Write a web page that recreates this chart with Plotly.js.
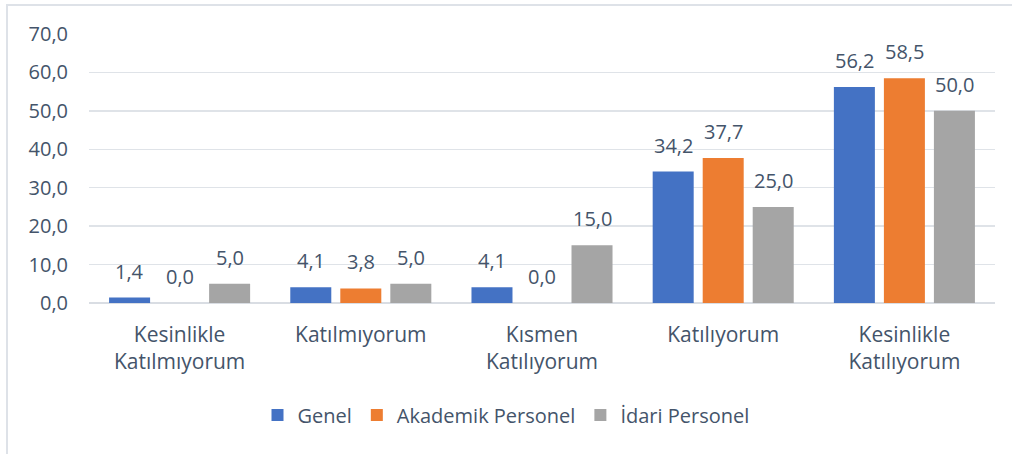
<!DOCTYPE html>
<html>
<head>
<meta charset="utf-8">
<script src="https://cdn.plot.ly/plotly-3.0.1.min.js"></script>
<style>
  html, body { margin: 0; padding: 0; background: #fff; }
  #wrap { position: relative; width: 1012px; height: 454px; overflow: hidden; }
  #frame { position: absolute; left: 6px; top: 4px; width: 1100px; height: 500px;
           border-left: 2px solid #dee2e8; border-top: 2px solid #dee2e8; pointer-events: none; }
  #chart { position: absolute; left: 0; top: 0; width: 1012px; height: 454px; }
</style>
</head>
<body>
<div id="wrap">
  <div id="chart"></div>
  <div id="frame"></div>
</div>
<script>
const categories = ["Kesinlikle<br>Katılmıyorum", "Katılmıyorum", "Kısmen<br>Katılıyorum", "Katılıyorum", "Kesinlikle<br>Katılıyorum"];
const seriesNames = ["Genel", "Akademik Personel", "İdari Personel"];
const genel = [1.4, 4.1, 4.1, 34.2, 56.2];
const akademik = [0.0, 3.8, 0.0, 37.7, 58.5];
const idari = [5.0, 5.0, 15.0, 25.0, 50.0];
const seriesColors = ["#4472c4", "#ed7d31", "#a5a5a5"];

const seriesValues = [genel, akademik, idari];
const textColor = "#44546a";
const fontFamily = "'Open Sans', sans-serif";
const fontSize = 20;

const W = 1012, H = 454;
const margin = { l: 89, r: 17, t: 34, b: 151 };
const bargap = 0.172, bargroupgap = 0.18;

const plotW = W - margin.l - margin.r;
const slot = plotW / categories.length * (1 - bargap) / seriesValues.length;

const traces = seriesValues.map((vals, i) => ({
  type: "bar",
  name: seriesNames[i],
  x: categories,
  y: vals,
  marker: { color: seriesColors[i] },
  hoverinfo: "skip"
}));

const annotations = [];
seriesValues.forEach((vals, i) => {
  vals.forEach((v, j) => {
    annotations.push({
      x: categories[j], y: v, xref: "x", yref: "y",
      xshift: (i - (seriesValues.length - 1) / 2) * slot,
      yshift: 11,
      yanchor: "bottom",
      showarrow: false,
      text: v.toFixed(1).replace(".", ","),
      font: { family: fontFamily, size: fontSize, color: textColor }
    });
  });
});

const layout = {
  width: W, height: H,
  margin: margin,
  paper_bgcolor: "rgba(0,0,0,0)",
  plot_bgcolor: "rgba(0,0,0,0)",
  separators: ",.",
  barmode: "group",
  bargap: bargap,
  bargroupgap: bargroupgap,
  font: { family: fontFamily, size: fontSize, color: textColor },
  showlegend: true,
  legend: {
    orientation: "h",
    xref: "container", yref: "container",
    x: 0.5, xanchor: "center",
    y: 0.086, yanchor: "middle",
    font: { family: fontFamily, size: fontSize, color: textColor },
    itemclick: false
  },
  xaxis: {
    type: "category",
    showgrid: false,
    showline: false,
    ticks: "",
    ticklabelstandoff: 17,
    tickfont: { family: fontFamily, size: 21, color: textColor },
    fixedrange: true
  },
  yaxis: {
    range: [0, 70],
    dtick: 10,
    tick0: 0,
    tickformat: ".1f",
    showgrid: true,
    gridcolor: "#dfe3e8",
    gridwidth: 1.5,
    zeroline: true,
    zerolinecolor: "#d9dde3",
    zerolinewidth: 1.5,
    showline: false,
    ticks: "",
    ticklabelstandoff: 20,
    tickfont: { family: fontFamily, size: fontSize, color: textColor },
    fixedrange: true
  },
  annotations: annotations
};

Plotly.newPlot("chart", traces, layout, { displayModeBar: false, staticPlot: true });
</script>
</body>
</html>
